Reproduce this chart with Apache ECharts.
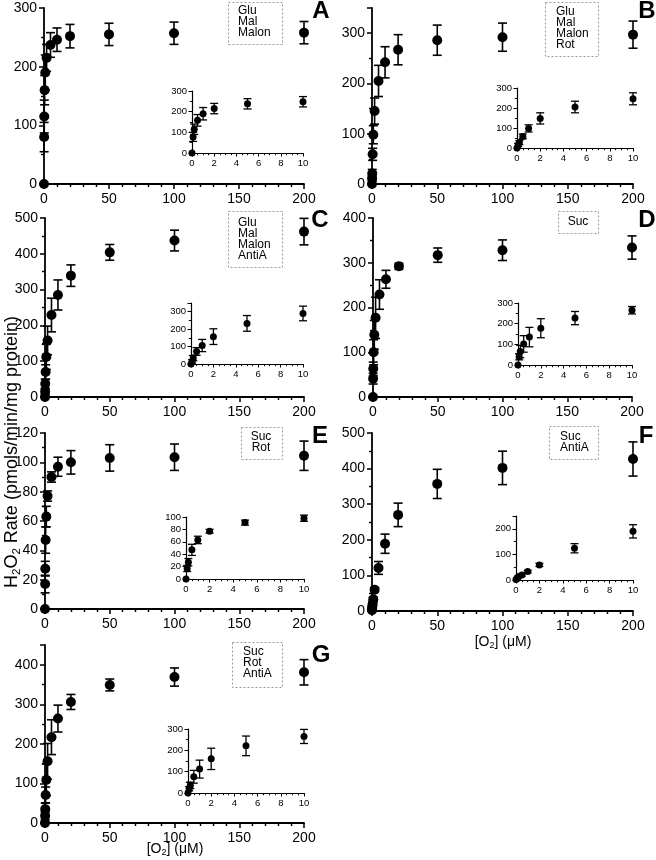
<!DOCTYPE html>
<html><head><meta charset="utf-8">
<script src="https://cdn.jsdelivr.net/npm/echarts@6/dist/echarts.min.js"></script>
<style>html,body{margin:0;padding:0;background:#fff}#c{width:656px;height:860px}</style>
</head><body><div id="c"></div><script>
// ---------- DATA ----------
const xMain  = [0, 0.1, 0.2, 0.5, 1, 2, 5, 10, 20, 50, 100, 200];
const xInset = [0, 0.1, 0.2, 0.5, 1, 2, 5, 10];

const aY    = [0, 80, 115, 160, 190, 215, 237, 246, 252, 255, 257, 258];
const aErr  = [0, 25, 28, 25, 30, 23, 21, 20, 20, 19, 19, 19];
const aInY  = [0, 78, 115, 158, 190, 215, 238, 248];
const aInErr= [0, 22, 25, 28, 30, 25, 25, 25];

const bY    = [0, 11, 21, 59, 98, 145, 205, 242, 267, 286, 292, 297];
const bErr  = [0, 5, 8, 12, 18, 26, 31, 31, 30, 30, 28, 27];
const bInY  = [0, 15, 27, 58, 98, 148, 205, 246];
const bInErr= [0, 8, 10, 12, 18, 28, 29, 30];

const cY    = [0, 15, 37, 70, 112, 158, 229, 285, 339, 404, 437, 462];
const cErr  = [0, 8, 12, 20, 35, 40, 47, 42, 30, 22, 29, 37];
const cInY  = [0, 15, 34, 72, 106, 157, 233, 290];
const cInErr= [0, 10, 15, 22, 35, 45, 45, 42];

const dY    = [0, 41, 63, 100, 139, 177, 229, 263, 292, 317, 328, 334];
const dErr  = [0, 12, 15, 28, 32, 46, 33, 20, 7, 16, 23, 26];
const dInY  = [0, 40, 65, 102, 135, 178, 227, 265];
const dInErr= [0, 15, 30, 40, 47, 46, 32, 18];

const eY    = [0, 17, 27.5, 47, 63, 77, 90, 97, 100, 103, 103.5, 104.5];
const eErr  = [0, 6, 5, 9, 7, 3.5, 3.5, 6.5, 8, 9, 9, 10];
const eInY  = [0, 17, 27, 47, 63, 77, 91, 98];
const eInErr= [0, 5, 6, 9, 6, 3, 4, 5];

const fY    = [2, 6, 12, 20, 33, 60, 121, 189, 270, 357, 402, 427];
const fErr  = [0, 3, 4, 5, 6, 6, 18, 27, 33, 41, 47, 48];
const fInY  = [2, 6, 13, 20, 33, 59, 124, 190];
const fInErr= [0, 3, 4, 5, 5, 6, 18, 26];

const gY    = [0, 18, 35, 71, 109, 156, 217, 264, 306, 349, 369, 381];
const gErr  = [0, 10, 15, 20, 40, 45, 44, 34, 19, 15, 23, 32];
const gInY  = [0, 20, 36, 76, 112, 160, 221, 265];
const gInErr= [0, 10, 15, 30, 42, 50, 46, 33];

const letters = ['A','B','C','D','E','F','G'];
const legends = [
  ['Glu','Mal','Malon'],
  ['Glu','Mal','Malon','Rot'],
  ['Glu','Mal','Malon','AntiA'],
  ['Suc'],
  ['Suc','Rot'],
  ['Suc','AntiA'],
  ['Suc','Rot','AntiA']
];
const yTitle = 'H2O2 Rate (pmols/min/mg protein)';
const xTitle = '[O2] (μM)';

// ---------- LAYOUT ----------
const panels = [
  {y:aY, e:aErr, iy:aInY, ie:aInErr, ymax:300, yint:100, ymin:2, iymax:300, iyint:100, iymin:2,
   g:[44,8,260,176], ig:[192,91,111,62], lg:[228,2,54,42], lx:238, ly:11, la:'left', L:[321,11]},
  {y:bY, e:bErr, iy:bInY, ie:bInErr, ymax:350, yint:100, ymin:2, iymax:300, iyint:100, iymin:2,
   g:[372,8,261,176], ig:[517,88,116,60], lg:[545,2,53,54], lx:556, ly:12, la:'left', L:[647,11]},
  {y:cY, e:cErr, iy:cInY, ie:cInErr, ymax:500, yint:100, ymin:2, iymax:350, iyint:100, iymin:2,
   g:[45,218,259,179], ig:[191,303,112,61], lg:[228,211,54,56], lx:238, ly:223, la:'left', L:[320,220]},
  {y:dY, e:dErr, iy:dInY, ie:dInErr, ymax:400, yint:100, ymin:2, iymax:300, iyint:100, iymin:2,
   g:[373,218,259,179], ig:[518,303,114,62], lg:[558,211,40,22], lx:578, ly:222, la:'center', L:[647,220]},
  {y:eY, e:eErr, iy:eInY, ie:eInErr, ymax:120, yint:20, ymin:2, iymax:100, iyint:20, iymin:0,
   g:[45,433,259,176], ig:[186,517,118,62], lg:[241,427,41,32], lx:261, ly:437, la:'center', L:[320,436]},
  {y:fY, e:fErr, iy:fInY, ie:fInErr, ymax:500, yint:100, ymin:2, iymax:250, iyint:100, iymin:2,
   g:[372,433,261,178], ig:[516,516,117,64], lg:[549,426,49,33], lx:560, ly:437, la:'left', L:[646,436]},
  {y:gY, e:gErr, iy:gInY, ie:gInErr, ymax:450, yint:100, ymin:2, iymax:300, iyint:100, iymin:2,
   g:[45,645,259,178], ig:[188,729,116,64], lg:[232,642,50,45], lx:243, ly:652, la:'left', L:[321,655]}
];

const FONT = '"Liberation Sans", Arial, sans-serif';

function errSeries(gi, xs, ys, es, hw, lw) {
  return {
    type:'custom', xAxisIndex:gi, yAxisIndex:gi, clip:false, silent:true, z:3,
    data: xs.map((x,i)=>[x, ys[i]-es[i], ys[i]+es[i]]),
    encode:{x:0, y:[1,2]},
    renderItem:(params, api)=>{
      const x=api.value(0), lo=api.value(1), hi=api.value(2);
      if (!(hi-lo > 0)) return {type:'group', children:[]};
      const a=api.coord([x,lo]), b=api.coord([x,hi]);
      const st={stroke:'#000', lineWidth:lw};
      return {type:'group', children:[
        {type:'line', shape:{x1:a[0],y1:a[1],x2:b[0],y2:b[1]}, style:st},
        {type:'line', shape:{x1:a[0]-hw,y1:a[1],x2:a[0]+hw,y2:a[1]}, style:st},
        {type:'line', shape:{x1:b[0]-hw,y1:b[1],x2:b[0]+hw,y2:b[1]}, style:st}
      ]};
    }
  };
}
function dotSeries(gi, xs, ys, size) {
  return {type:'scatter', xAxisIndex:gi, yAxisIndex:gi, clip:false, silent:true, z:4,
    symbol:'circle', symbolSize:size, itemStyle:{color:'#000', opacity:1},
    data: xs.map((x,i)=>[x, ys[i]])};
}
function axisBase(fs, lw, tl, ml, margin) {
  return {
    type:'value',
    axisLine:{show:true, onZero:false, lineStyle:{color:'#000', width:lw}},
    axisTick:{show:true, inside:false, length:tl, lineStyle:{color:'#000', width:lw*0.85}},
    minorTick:{show:true, length:ml, lineStyle:{color:'#000', width:lw*0.8}},
    splitLine:{show:false}, minorSplitLine:{show:false},
    axisLabel:{color:'#000', fontSize:fs, fontFamily:FONT, margin:margin}
  };
}

const grids=[], xAxes=[], yAxes=[], series=[], graphics=[];
panels.forEach((p,k)=>{
  // main plot
  let gi = grids.length;
  grids.push({left:p.g[0], top:p.g[1], width:p.g[2], height:p.g[3], outerBoundsMode:'none'});
  let xa = axisBase(14, 1.8, 5, 3, 8);
  Object.assign(xa, {gridIndex:gi, min:0, max:200, interval:50});
  xa.minorTick.splitNumber = 5;
  xAxes.push(xa);
  let ya = axisBase(14, 1.8, 5, 3, 7);
  const yint = p.yint;
  Object.assign(ya, {gridIndex:gi, min:0, max:p.ymax, interval:yint});
  ya.minorTick.splitNumber = p.ymin; ya.minorTick.show = p.ymin > 0;
  ya.axisLabel.formatter = v => (v % yint === 0 ? String(v) : '');
  yAxes.push(ya);
  series.push(errSeries(gi, xMain, p.y, p.e, 4.5, 1.6));
  series.push(dotSeries(gi, xMain, p.y, 10));
  // inset
  gi = grids.length;
  grids.push({left:p.ig[0], top:p.ig[1], width:p.ig[2], height:p.ig[3], outerBoundsMode:'none'});
  let ixa = axisBase(9.5, 1.2, 3.5, 2.2, 5);
  Object.assign(ixa, {gridIndex:gi, min:0, max:10, interval:2});
  ixa.minorTick.splitNumber = 4;
  xAxes.push(ixa);
  let iya = axisBase(9.5, 1.2, 3.5, 2.2, 5);
  const iyint = p.iyint;
  Object.assign(iya, {gridIndex:gi, min:0, max:p.iymax, interval:iyint});
  iya.minorTick.splitNumber = p.iymin || 2; iya.minorTick.show = p.iymin > 0;
  iya.axisLabel.formatter = v => (v % iyint === 0 ? String(v) : '');
  yAxes.push(iya);
  series.push(errSeries(gi, xInset, p.iy, p.ie, 4, 1.3));
  series.push(dotSeries(gi, xInset, p.iy, 7));
  // legend box
  graphics.push({type:'rect', shape:{x:p.lg[0]+0.5, y:p.lg[1]+0.5, width:p.lg[2], height:p.lg[3]},
    style:{fill:'#fff', stroke:'#999', lineWidth:1, lineDash:[2,2]}, z:10});
  legends[k].forEach((t,j)=>{
    graphics.push({type:'text', x:p.lx, y:p.ly + j*11, z:11,
      style:{text:t, fontSize:12, fontFamily:FONT, fill:'#000', textAlign:p.la, textVerticalAlign:'middle'}});
  });
  // panel letter
  graphics.push({type:'text', x:p.L[0], y:p.L[1], z:11,
    style:{text:letters[k], fontSize:24, fontWeight:'bold', fontFamily:FONT, fill:'#000',
      textAlign:'center', textVerticalAlign:'middle'}});
});

// titles
function subRich(s) {
  return s.replace(/([HO])2/g, '$1§').split('§').map((part,i,arr)=> '{n|'+part+'}' + (i<arr.length-1 ? '{s|2}' : '')).join('');
}
graphics.push({type:'text', x:12, y:452, rotation:Math.PI/2, z:11,
  style:{text:subRich(yTitle), textAlign:'center', textVerticalAlign:'middle', fill:'#000',
    rich:{n:{fontSize:18, fontFamily:FONT, fill:'#000', lineHeight:21},
          s:{fontSize:11.5, fontFamily:FONT, fill:'#000', lineHeight:11, verticalAlign:'bottom'}}}});
[[503,642],[175,849]].forEach(pos=>{
  graphics.push({type:'text', x:pos[0], y:pos[1], z:11,
    style:{text:subRich(xTitle), textAlign:'center', textVerticalAlign:'middle', fill:'#000',
      rich:{n:{fontSize:14, fontFamily:FONT, fill:'#000', lineHeight:17},
            s:{fontSize:9, fontFamily:FONT, fill:'#000', lineHeight:9, verticalAlign:'bottom'}}}});
});

const chart = echarts.init(document.getElementById('c'), null, {renderer:'canvas', width:656, height:860});
chart.setOption({
  animation:false,
  backgroundColor:'#fff',
  grid:grids, xAxis:xAxes, yAxis:yAxes, series:series, graphic:graphics
});
</script></body></html>
